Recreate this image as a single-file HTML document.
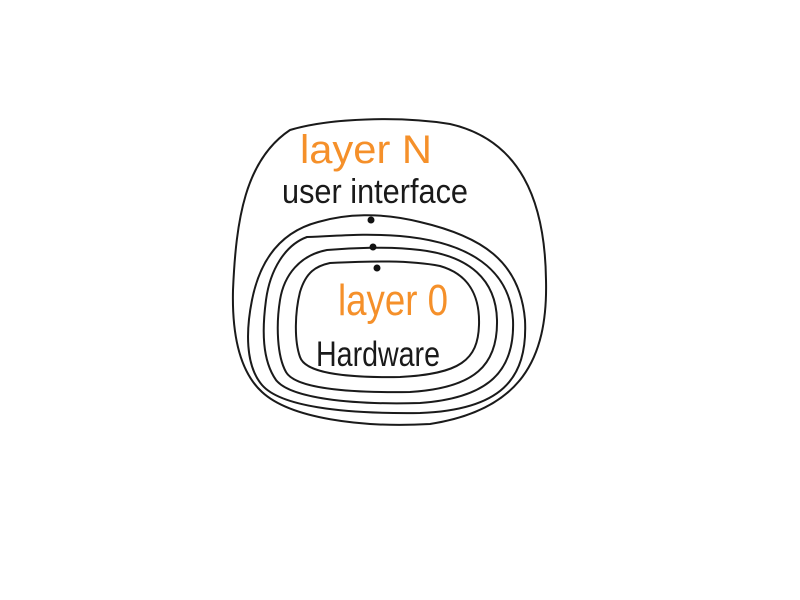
<!DOCTYPE html>
<html><head><meta charset="utf-8"><style>
html,body{margin:0;padding:0;background:#fff;}
svg{display:block}
text{font-family:"Liberation Sans","DejaVu Sans",sans-serif;}
</style></head><body>
<svg width="800" height="600" viewBox="0 0 800 600">
<rect width="800" height="600" fill="#fff"/>
<g fill="none" stroke="#1a1a1a" stroke-width="2" stroke-linecap="round">
<path d="M290,130 C330,118 400,116 450,124 C520,140 545,200 546,280 C548,360 520,410 430,424 C360,428 290,418 262,392 C238,370 232,330 233,290 C236,220 245,160 290,130"/>
<path d="M318,222 C345,214 380,212 420,222 C480,236 520,260 525,320 C528,380 500,410 420,413 C340,414 280,406 262,385 C245,365 246,330 252,300 C260,260 280,232 318,222"/>
<path d="M307,237 C340,236 360,233 400,236 C470,242 510,270 513,320 C515,370 490,398 420,403 C350,405 290,398 276,380 C262,360 262,330 266,300 C270,270 285,245 307,237"/>
<path d="M327,250 C350,248 390,246 420,250 C470,256 496,280 497,320 C498,365 475,388 410,392 C345,393 295,388 286,372 C277,356 276,325 280,300 C284,275 300,255 327,250"/>
<path d="M330,263 C370,261 410,260 440,266 C468,274 480,295 479,325 C478,360 460,374 400,377 C340,378 305,372 300,357 C294,340 295,312 300,292 C306,272 316,266 330,263"/>
</g>
<g fill="#111">
<circle cx="371" cy="220" r="3.5"/>
<circle cx="373" cy="247" r="3.5"/>
<circle cx="377" cy="268" r="3.5"/>
</g>
<text x="300" y="163" font-size="40" fill="#f5902a" textLength="132" lengthAdjust="spacingAndGlyphs">layer N</text>
<text x="282" y="203" font-size="34" fill="#1a1a1a" textLength="186" lengthAdjust="spacingAndGlyphs">user  interface</text>
<text x="338" y="315" font-size="44" fill="#f5902a" textLength="110" lengthAdjust="spacingAndGlyphs">layer 0</text>
<text x="316" y="366" font-size="35" fill="#1a1a1a" textLength="124" lengthAdjust="spacingAndGlyphs">Hardware</text>
</svg>
</body></html>
